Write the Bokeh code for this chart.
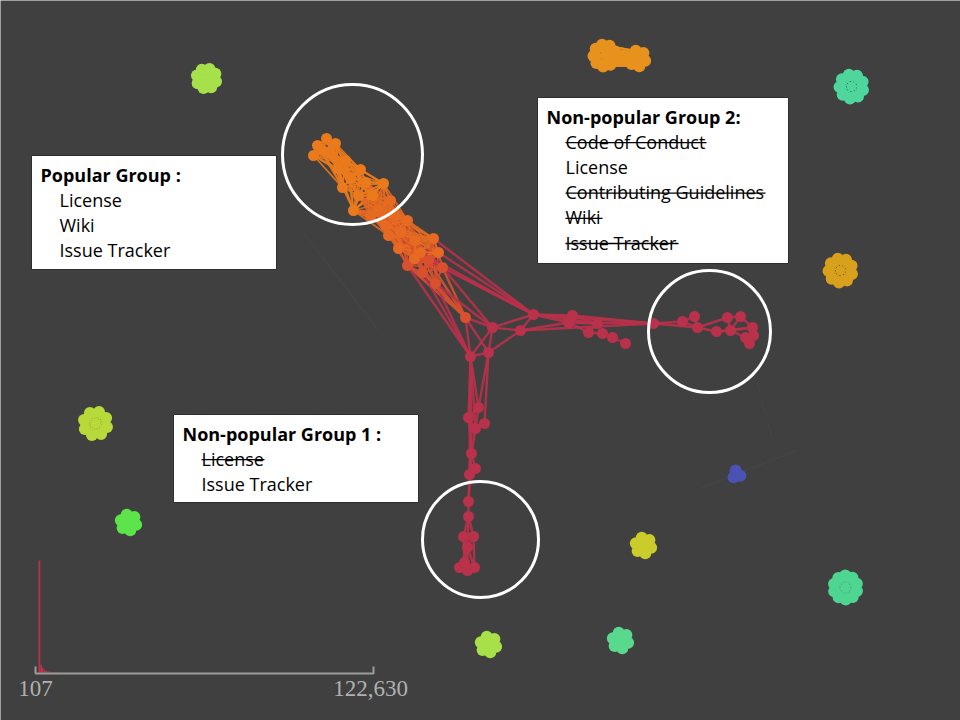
import math
from bokeh.plotting import figure
from bokeh.models import Range1d
from bokeh.core.properties import value
from bokeh.embed import file_html
from bokeh.resources import INLINE

# main component: node positions (screen-like coords) and colour group
node_x = [326, 335, 317, 313, 330, 345, 360, 350, 342, 365, 383, 372, 353,
          390, 378, 395, 407, 388, 400, 415, 433, 420, 407, 428, 442, 435,
          465, 492, 533, 520, 572, 568, 597, 588, 602, 612, 625, 653, 682,
          694, 697, 716, 727, 740, 730, 752, 753, 745, 749, 470, 488, 478,
          468, 475, 484, 471, 475, 469, 468, 468, 463, 473, 467, 459, 467,
          474, 464,
          322, 338, 358, 370, 385, 398, 414, 422, 438]
node_y = [138, 143, 145, 155, 152, 160, 169, 178, 187, 182, 183, 195, 210,
          200, 210, 215, 220, 235, 232, 240, 238, 252, 265, 260, 267, 283,
          317, 327, 314, 330, 315, 322, 323, 332, 333, 337, 343, 323, 321,
          316, 327, 331, 317, 316, 330, 327, 335, 337, 343, 356, 352, 407,
          417, 428, 423, 453, 468, 474, 501, 516, 536, 536, 547, 567, 570,
          567, 562,
          150, 168, 195, 215, 225, 248, 258, 272, 252]
node_grp = [0] * 13 + [1] * 9 + [2] * 5 + [3] * 40 + [0, 0, 0, 1, 1, 1, 1, 2, 1]

orange_cliques = [
    [0, 1, 2, 3, 4, 5, 6, 7, 8, 67, 68],
    [4, 5, 6, 7, 8, 9, 10, 11, 12, 68, 69],
    [9, 10, 11, 12, 13, 14, 15, 16, 17, 18, 69, 70, 71],
    [14, 15, 16, 17, 18, 19, 20, 21, 22, 23, 71, 72, 73, 75],
    [19, 20, 21, 22, 23, 24, 25, 73, 74, 75],
]
red_edges = [
    (22, 26), (23, 26), (24, 26), (25, 26), (25, 49), (26, 49), (22, 49),
    (24, 27), (25, 27), (26, 27), (20, 28), (21, 28), (23, 28), (24, 28),
    (26, 50), (27, 28), (27, 29), (28, 29), (27, 49), (27, 50), (29, 50),
    (49, 50), (28, 30), (28, 31), (28, 37), (29, 37), (30, 37), (31, 37),
    (30, 31), (30, 32), (31, 33), (32, 33), (33, 34), (34, 35), (35, 36),
    (31, 32), (29, 31), (28, 32), (37, 38), (37, 40), (38, 39), (38, 40),
    (39, 40), (40, 41), (41, 44), (42, 43), (42, 44), (43, 44), (44, 45),
    (45, 46), (46, 47), (47, 48), (41, 45), (44, 47), (43, 45), (40, 42),
    (49, 51), (49, 52), (49, 53), (50, 51), (50, 54), (51, 52), (52, 53),
    (53, 54), (51, 53), (52, 55), (53, 55), (55, 56), (55, 57), (56, 57),
    (57, 58), (55, 58), (58, 59), (59, 60), (59, 61), (60, 61), (60, 62),
    (61, 62), (62, 63), (62, 64), (62, 65), (62, 66), (63, 64), (64, 65),
    (63, 66), (66, 65), (59, 62), (60, 66), (61, 65), (49, 55), (49, 57),
    (74, 26), (74, 49), (75, 28),
]

# small isolated communities (rings sharing an id form one clique)
flower_x = [206, 604, 637, 851, 840, 95, 128, 736, 643, 845, 488, 620]
flower_y = [78, 55, 58, 86, 270, 423, 522, 474, 545, 587, 644, 640]
flower_n = [8, 9, 6, 9, 9, 8, 6, 3, 6, 10, 6, 6]
flower_ring = [10, 11, 8, 12, 12, 12, 8, 4, 8, 12, 8, 8]
flower_id = [0, 1, 1, 2, 3, 4, 5, 6, 7, 8, 9, 10]
flower_color = ["#a6e04a", "#e8921e", "#e8921e", "#4fd69c", "#d9a11b",
                "#b8d93a", "#5ce44a", "#4a52b3", "#c9cc2a", "#4ed592",
                "#a8e04a", "#5ad98e"]

# faint background links
faint_x0 = [300, 757, 700]
faint_y0 = [228, 382, 488]
faint_x1 = [378, 772, 796]
faint_y1 = [330, 440, 450]

# highlight circles
ring_x = [352, 709, 480]
ring_y = [154, 331, 539]
ring_r = [70, 61, 58]

# annotation boxes
box_titles = ["Popular Group :", "Non-popular  Group 2:", "Non-popular  Group 1 :"]
box_items = [["License", "Wiki", "Issue Tracker"],
             ["Code of Conduct", "License", "Contributing Guidelines", "Wiki", "Issue Tracker"],
             ["License", "Issue Tracker"]]
box_struck = [[False, False, False],
              [True, False, True, True, True],
              [True, False]]

# weight histogram (bottom left)
hist_min, hist_max = 107, 122630
hist_counts = [230, 16, 9, 5, 3, 2, 2, 1, 1, 0, 1, 0, 1]
hist_bins = 200

# layout
palette = ["#ea7a1c", "#e66a22", "#d9502f", "#b9314a"]
box_rect = [(31, 276, 155, 269), (537, 788, 97, 263), (173, 418, 414, 502)]
text_w = {"Code of Conduct": 141, "Contributing Guidelines": 200, "Wiki": 37,
          "Issue Tracker": 113, "License": 63}
FONT = "Open Sans"

p = figure(width=960, height=720, x_range=Range1d(0, 960), y_range=Range1d(720, 0),
           output_backend="svg", toolbar_location=None, min_border=0)
p.axis.visible = False
p.grid.visible = False
p.outline_line_color = None
p.background_fill_color = "#404040"
p.border_fill_color = "#404040"

p.segment(faint_x0, faint_y0, faint_x1, faint_y1, line_color="#8a8a8a",
          line_alpha=0.08, line_width=1)

# main network edges
ex0, ey0, ex1, ey1, ec, ew = [], [], [], [], [], []
for cl in orange_cliques:
    for i in range(len(cl)):
        for j in range(i + 1, len(cl)):
            a, b = cl[i], cl[j]
            ex0.append(node_x[a]); ey0.append(node_y[a])
            ex1.append(node_x[b]); ey1.append(node_y[b])
            ec.append(palette[max(node_grp[a], node_grp[b])]); ew.append(1.7)
for a, b in red_edges:
    ex0.append(node_x[a]); ey0.append(node_y[a])
    ex1.append(node_x[b]); ey1.append(node_y[b])
    ec.append(palette[max(node_grp[a], node_grp[b])]); ew.append(2.4)
p.segment(ex0, ey0, ex1, ey1, line_color=ec, line_width=ew, line_alpha=0.9)
p.circle(node_x, node_y, radius=5.5, fill_color=[palette[g] for g in node_grp],
         line_color=None)

# isolated communities
fx, fy, fc = [], [], []
groups = {}
for k in range(len(flower_x)):
    n = flower_n[k]
    for t in range(n):
        ang = 2 * math.pi * t / n + 0.3
        x = flower_x[k] + flower_ring[k] * math.cos(ang)
        y = flower_y[k] + flower_ring[k] * math.sin(ang)
        fx.append(x); fy.append(y); fc.append(flower_color[k])
        groups.setdefault(flower_id[k], []).append((x, y, flower_color[k]))
sx0, sy0, sx1, sy1, sc = [], [], [], [], []
for pts in groups.values():
    for i in range(len(pts)):
        for j in range(i + 1, len(pts)):
            sx0.append(pts[i][0]); sy0.append(pts[i][1])
            sx1.append(pts[j][0]); sy1.append(pts[j][1]); sc.append(pts[i][2])
p.segment(sx0, sy0, sx1, sy1, line_color=sc, line_width=1.4, line_alpha=0.95)
p.circle(fx, fy, radius=6, fill_color=fc, line_color=None)
p.circle(flower_x, flower_y, radius=[r * 0.4 for r in flower_ring],
         fill_color=flower_color, line_color=None)

# highlight circles
p.circle(ring_x, ring_y, radius=ring_r, fill_color=None, line_color="white",
         line_width=3)

# histogram
hx0, hx1, hy = 35, 373, 673
bw = (hist_max - hist_min) / hist_bins
sc_x = (hx1 - hx0) / (hist_max - hist_min)
sc_y = 112 / max(hist_counts)
lefts = [hx0 + i * bw * sc_x for i in range(len(hist_counts))]
p.quad(left=[l + 3 for l in lefts], right=[l + 3 + max(bw * sc_x, 1.8) for l in lefts],
       bottom=hy - 1, top=[hy - 1 - c * sc_y for c in hist_counts],
       fill_color="#b9314a", line_color=None)
p.multi_line([[hx0, hx0, hx1, hx1]], [[hy - 7, hy, hy, hy - 7]],
             line_color="#9c9c9c", line_width=2)
p.text([hx0, hx1 - 3], [hy + 7, hy + 7], text=[f"{hist_min:,}", f"{hist_max:,}"],
       text_align="center", text_baseline="top", text_color="#b0b0b0",
       text_font=value("Liberation Serif"), text_font_size="23px")

# annotation boxes
for (l, r, t, b), title, items, struck in zip(box_rect, box_titles, box_items, box_struck):
    p.quad(left=l, right=r, top=t, bottom=b, fill_color="white",
           line_color="#2e2e2e", line_width=1)
    p.text([l + 9], [t + 19], text=[title], text_font=value(FONT),
           text_font_style="bold", text_font_size="18px", text_color="black",
           text_baseline="middle")
    ys = [t + 19 + 25.2 * (i + 1) for i in range(len(items))]
    p.text([l + 28] * len(items), ys, text=items, text_font=value(FONT),
           text_font_size="18px", text_color="black", text_baseline="middle")
    for it, yy, s in zip(items, ys, struck):
        if s:
            p.segment(l + 28, yy + 1, l + 28 + text_w[it], yy + 1,
                      line_color="black", line_width=1.3)

open("out.html", "w").write(file_html(p, INLINE))
